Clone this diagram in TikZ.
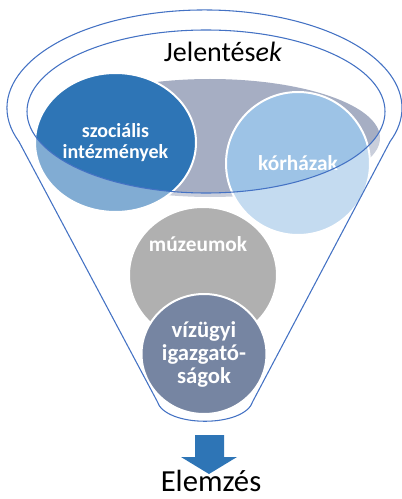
\documentclass[tikz,border=0pt]{standalone}
\usepackage{fontspec}
\setmainfont{Carlito}
\usetikzlibrary{shapes.geometric}
\tikzset{
  bubble/.style = {ellipse, draw = white, line width = 1.5pt, inner sep = 0pt, text = white, align = center},
  rim/.style = {draw = rimblue, line width = 0.8pt},
}
\begin{document}
\begin{tikzpicture}[x = 0.75pt, y = -0.75pt]
\pgfmathsetlengthmacro\pix{0.75pt};
\definecolor{rimblue}{HTML}{4472C4}
\definecolor{socblue}{HTML}{2E75B6}
\definecolor{hospblue}{HTML}{9DC3E6}
\definecolor{backgray}{HTML}{A6AEC3}
\definecolor{musgray}{HTML}{B0B0B0}
\definecolor{watergray}{HTML}{7685A2}
\useasboundingbox (0,0) rectangle (402,499);
\fill[backgray] (210,138) ellipse [x radius = 170, y radius = 59];
\node[bubble, fill = socblue, minimum width = 161*\pix, minimum height = 139*\pix,
  font = \fontsize{15}{15.75}\bfseries] (szoc) at (115.5,142.5) {szociális\\intézmények};
\node[bubble, fill = hospblue, minimum width = 144*\pix, minimum height = 143*\pix,
  font = \fontsize{16}{17}\bfseries] (korh) at (298,163.5) {kórházak};
\fill[white, opacity = 0.4, even odd rule] (0,0) rectangle (402,499) (206,111.5) ellipse [x radius = 179, y radius = 81.5];
\node[bubble, fill = musgray, minimum width = 148*\pix, minimum height = 136*\pix] (muz) at (203,275) {};
\node[text = white, font = \fontsize{16}{17}\bfseries] (muztext) at (198,244) {múzeumok};
\node[bubble, fill = watergray, minimum width = 125*\pix, minimum height = 120*\pix,
  font = \fontsize{17}{17.25}\bfseries] (viz) at (204,354) {vízügyi\\igazgató-\\ságok};
\draw[rim] (206,111.5) ellipse [x radius = 179, y radius = 81.5];
\draw[rim] (157,401) -- (18.9,141.5) arc [start angle = 160, end angle = 380, x radius = 197.5, y radius = 98] -- (253,401) .. controls (245,428) and (165,428) .. (157,401);
\node[anchor = base, font = \fontsize{21}{24}\selectfont, inner sep = 0pt] (jel) at (223,62) {Jelentés\textit{ek}};
\fill[socblue] (195,435) -- (224,435) -- (224,457) -- (237,457) -- (209,474) -- (181,457) -- (195,457) -- cycle;
\node[anchor = base, font = \fontsize{23}{26}\selectfont, inner sep = 0pt] (elem) at (211,491) {Elemzés};
\end{tikzpicture}
\end{document}
